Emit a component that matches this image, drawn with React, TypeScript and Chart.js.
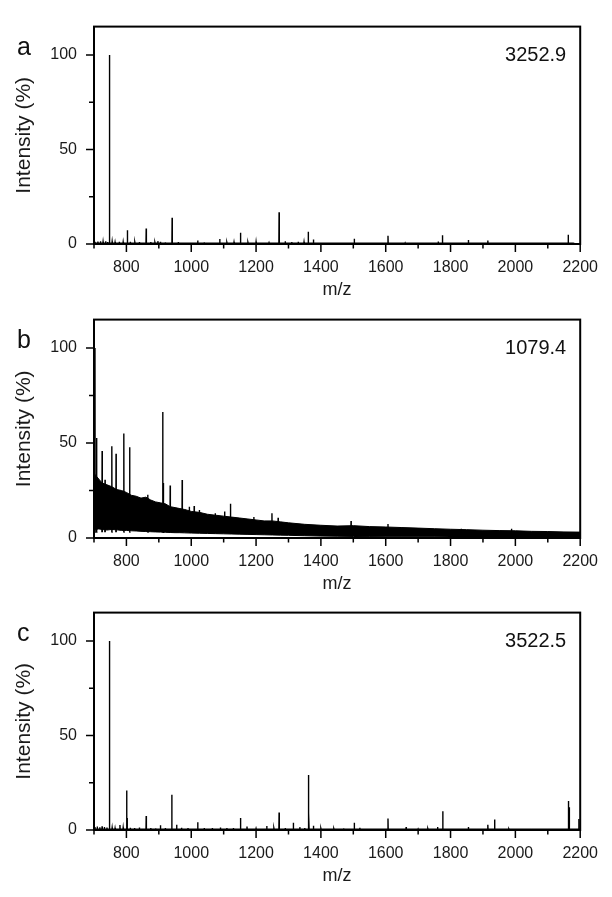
import React, { useEffect, useRef } from "react";
import { Chart, registerables } from "chart.js";

Chart.register(...registerables);

const FONT = "'Liberation Sans', Arial, Helvetica, sans-serif";

// ---- axis ranges / labels ----
const X_MIN = 700;
const X_MAX = 2200;
const Y_MAX = 115;
const panelLetters = ["a", "b", "c"];
const panelTotals = ["3252.9", "1079.4", "3522.5"];
const xTitle = "m/z";
const yTitle = "Intensity (%)";

// ---- panel a: peaks (m/z, relative intensity %) ----
const aMz = [703, 712, 720, 728, 736, 742, 747, 748.5, 756, 765, 778, 790, 803, 812, 826, 840, 850, 861, 875, 888, 897, 905, 920, 941, 960, 985, 1020, 1040, 1088, 1110, 1132, 1152, 1175, 1200, 1240, 1271, 1290, 1310, 1330, 1348, 1361, 1377, 1420, 1460, 1503, 1550, 1607, 1660, 1720, 1762, 1775, 1790, 1855, 1915, 1960, 2040, 2100, 2163, 2180];
const aIntensity = [1.2, 1.3, 1.5, 1.2, 1.4, 1.1, 100, 45, 1.3, 1.0, 1.2, 1.1, 7.3, 1.2, 0.9, 1.0, 0.8, 8.2, 1.0, 0.8, 1.5, 1.2, 0.9, 13.9, 1.0, 0.8, 1.8, 0.9, 2.6, 0.8, 1.0, 5.9, 0.8, 1.2, 0.7, 16.8, 1.4, 1.0, 1.2, 1.1, 6.5, 2.4, 0.8, 0.7, 2.8, 0.6, 4.4, 0.6, 0.6, 1.3, 4.6, 0.8, 2.1, 1.8, 0.6, 0.5, 0.6, 4.9, 0.6];

// ---- panel b: noisy band envelope + spikes ----
const bBandMz = [700, 705, 715, 725, 740, 755, 770, 785, 800, 815, 830, 845, 860, 875, 890, 905, 920, 935, 950, 965, 980, 1000, 1025, 1050, 1075, 1100, 1125, 1150, 1175, 1200, 1225, 1250, 1275, 1300, 1350, 1400, 1450, 1500, 1550, 1600, 1650, 1700, 1750, 1800, 1850, 1900, 1950, 2000, 2050, 2100, 2150, 2200];
const bBandUpper = [34, 33, 31, 29, 28, 27, 25.5, 25, 24, 22.5, 22, 21, 21.5, 20, 19, 18.5, 18, 16.5, 16, 15.5, 15, 14, 13.5, 12.5, 12, 11.5, 11, 10.5, 10, 9.5, 9, 9, 8.5, 8, 7.2, 6.7, 6.3, 6.5, 6, 5.8, 5.5, 5.2, 4.9, 4.6, 4.4, 4.1, 3.9, 3.8, 3.5, 3.4, 3.2, 3.1];
const bBandLower = [4.5, 4.5, 4.8, 4.5, 4.2, 4.5, 4.3, 4.0, 4.0, 3.8, 3.7, 3.5, 3.4, 3.3, 3.2, 3.1, 3.0, 2.9, 2.8, 2.8, 2.7, 2.6, 2.5, 2.4, 2.3, 2.2, 2.1, 2.0, 1.9, 1.8, 1.7, 1.6, 1.5, 1.4, 1.2, 1.0, 0.9, 0.8, 0.7, 0.6, 0.6, 0.6, 0.6, 0.5, 0.5, 0.5, 0.5, 0.5, 0.5, 0.5, 0.5, 0.5];
const bMz = [703, 708, 725, 734, 755, 768, 792, 810, 866, 912, 914, 935, 972, 994, 1009, 1025, 1074, 1103, 1121, 1193, 1249, 1268, 1493, 1607, 1833, 1988];
const bIntensity = [100, 52.7, 45.8, 30.7, 48.3, 44.4, 55, 47.8, 22.8, 66.4, 29, 27.7, 30.5, 16.5, 16.8, 14.8, 13, 13.9, 18, 11.1, 13, 10.6, 9, 7.4, 4.9, 4.9];

// ---- panel c: peaks ----
const cMz = [703, 710, 718, 725, 732, 740, 747, 748.5, 756, 765, 780, 790, 800.6, 802, 812, 825, 840, 861, 875, 890, 905, 920, 940, 955, 970, 990, 1020, 1040, 1065, 1090, 1110, 1130, 1152, 1172, 1200, 1233, 1255, 1271, 1290, 1315, 1335, 1350, 1361, 1363, 1377, 1400, 1440, 1470, 1503, 1520, 1560, 1607, 1640, 1663, 1700, 1730, 1760, 1776, 1800, 1855, 1880, 1915, 1936, 1980, 2050, 2100, 2140, 2163, 2166, 2180, 2196];
const cIntensity = [1.5, 1.8, 1.4, 1.9, 1.6, 1.3, 100, 44, 1.2, 1.0, 2.6, 1.3, 20.9, 6.3, 1.2, 1.0, 1.3, 7.4, 1.0, 0.9, 2.5, 1.0, 18.6, 2.8, 1.2, 1.0, 4.1, 1.1, 1.0, 1.3, 1.0, 1.1, 6.4, 1.8, 0.8, 2.1, 0.9, 9.2, 1.0, 3.9, 1.5, 1.0, 29.1, 9.0, 2.3, 0.8, 0.7, 0.9, 3.8, 1.2, 0.7, 6.1, 0.6, 1.6, 0.6, 0.7, 1.6, 9.9, 0.6, 1.6, 0.6, 2.8, 5.6, 0.6, 0.5, 0.6, 0.5, 15.3, 12.0, 0.6, 5.8];

type Pt = { x: number; y: number | null };

function sticks(mz: number[], inten: number[], base: number, separate: boolean): Pt[] {
  const pts: Pt[] = [];
  mz.forEach((m, i) => {
    pts.push({ x: m - 0.6, y: base }, { x: m, y: inten[i] }, { x: m + 0.6, y: base });
    if (separate) pts.push({ x: m + 0.7, y: null });
  });
  return pts;
}

function curve(mz: number[], vals: number[]): Pt[] {
  return mz.map((m, i) => ({ x: m, y: vals[i] }));
}

const lineStyle = {
  borderColor: "#000",
  backgroundColor: "#000",
  borderWidth: 1.4,
  pointRadius: 0,
  tension: 0,
  fill: false,
};

function datasetsFor(i: number): any[] {
  if (i === 0) return [{ ...lineStyle, data: sticks(aMz, aIntensity, 0.4, false) }];
  if (i === 1)
    return [
      { ...lineStyle, data: sticks(bMz, bIntensity, 3, true) },
      { ...lineStyle, borderWidth: 1, data: curve(bBandMz, bBandLower) },
      { ...lineStyle, borderWidth: 1, data: curve(bBandMz, bBandUpper), fill: "-1" },
    ];
  return [{ ...lineStyle, data: sticks(cMz, cIntensity, 0.4, false) }];
}

const panelDecor = {
  id: "panelDecor",
  afterDraw(chart: any, _args: any, opts: any) {
    const { ctx, chartArea } = chart;
    const { left, right, top, bottom } = chartArea;
    const xs = chart.scales.x;
    const ys = chart.scales.y;
    ctx.save();
    ctx.strokeStyle = "#000";
    ctx.lineWidth = 1.5;
    ctx.beginPath();
    xs.ticks.forEach((t: any) => {
      const px = xs.getPixelForValue(t.value);
      const len = t.value % 200 === 0 ? 8 : 4.5;
      ctx.moveTo(px, bottom);
      ctx.lineTo(px, bottom + len);
    });
    ys.ticks.forEach((t: any) => {
      const py = ys.getPixelForValue(t.value);
      const len = t.value % 50 === 0 ? 8 : 5;
      ctx.moveTo(left, py);
      ctx.lineTo(left - len, py);
    });
    ctx.stroke();
    ctx.lineWidth = 2;
    ctx.strokeRect(left, top, right - left, bottom - top);
    ctx.fillStyle = "#111";
    ctx.font = `25px ${FONT}`;
    ctx.textAlign = "left";
    ctx.textBaseline = "alphabetic";
    ctx.fillText(opts.letter, 17, top + 28);
    ctx.font = `20px ${FONT}`;
    ctx.textAlign = "right";
    ctx.textBaseline = "middle";
    ctx.fillText(opts.total, right - 14, top + 28.5);
    ctx.restore();
  },
};

function buildOptions(i: number): any {
  return {
    responsive: false,
    animation: false,
    events: [],
    layout: { padding: { top: 10, right: 28, left: 0, bottom: 0 } },
    plugins: {
      legend: { display: false },
      tooltip: { enabled: false },
      panelDecor: { letter: panelLetters[i], total: panelTotals[i] },
    },
    scales: {
      x: {
        type: "linear",
        min: X_MIN,
        max: X_MAX,
        afterFit: (s: any) => {
          s.height = 58;
        },
        grid: { display: false, drawTicks: false },
        border: { display: false },
        ticks: {
          stepSize: 100,
          autoSkip: false,
          maxRotation: 0,
          includeBounds: false,
          padding: 14,
          color: "#1a1a1a",
          font: { family: FONT, size: 16 },
          callback: (v: number) => (v % 200 === 0 ? String(v) : ""),
        },
        title: {
          display: true,
          text: xTitle,
          color: "#1a1a1a",
          font: { family: FONT, size: 18 },
          padding: { top: 0, bottom: 1 },
        },
      },
      y: {
        type: "linear",
        min: 0,
        max: Y_MAX,
        afterFit: (s: any) => {
          s.width = 94;
        },
        grid: { display: false, drawTicks: false },
        border: { display: false },
        ticks: {
          stepSize: 25,
          includeBounds: false,
          padding: 17,
          color: "#1a1a1a",
          font: { family: FONT, size: 16 },
          callback: (v: number) => (v % 50 === 0 ? String(v) : ""),
        },
        title: {
          display: true,
          text: yTitle,
          color: "#1a1a1a",
          font: { family: FONT, size: 21 },
          padding: { top: 12, bottom: 0 },
        },
      },
    },
  };
}

const CANVAS_TOPS = [0, 293, 586];
const CANVAS_HEIGHTS = [302, 303, 302];

export default function App() {
  const refs = [useRef<HTMLCanvasElement>(null), useRef<HTMLCanvasElement>(null), useRef<HTMLCanvasElement>(null)];

  useEffect(() => {
    const charts: Chart[] = [];
    refs.forEach((r, i) => {
      if (!r.current) return;
      charts.push(
        new Chart(r.current, {
          type: "line",
          data: { datasets: datasetsFor(i) },
          options: buildOptions(i),
          plugins: [panelDecor as any],
        })
      );
    });
    return () => charts.forEach((c) => c.destroy());
  }, []);

  return (
    <div style={{ position: "absolute", left: 0, top: 0, width: 612, height: 897, background: "#fff" }}>
      {refs.map((r, i) => (
        <canvas
          key={i}
          ref={r}
          width={612}
          height={CANVAS_HEIGHTS[i]}
          style={{ position: "absolute", left: 0, top: CANVAS_TOPS[i], width: 612, height: CANVAS_HEIGHTS[i] }}
        />
      ))}
    </div>
  );
}
